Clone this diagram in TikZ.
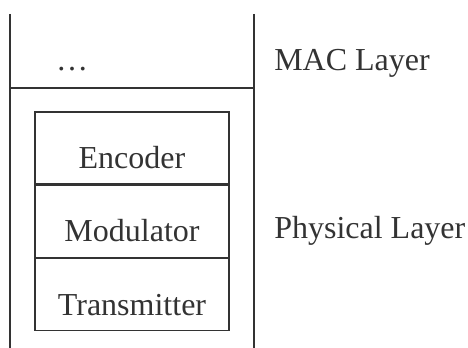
\documentclass[tikz,border=0pt]{standalone}
\usepackage{fontspec}
\setmainfont{Liberation Serif}
\usetikzlibrary{positioning}

\definecolor{ink}{rgb}{0.2,0.2,0.2}
\tikzset{
  layerbox/.style={draw=ink, line width=1pt, minimum width=145.5pt, minimum height=54pt,
    inner sep=0pt, text height=33pt, text depth=2pt, font=\fontsize{24}{28}\selectfont, text=ink},
  layertext/.style={inner sep=0pt, font=\fontsize{24}{28}\selectfont, text=ink}
}

\begin{document}
\begin{tikzpicture}[x=0.75pt,y=0.75pt,yscale=-1,xscale=1]
\useasboundingbox (0,0) rectangle (468,348);
%Straight Lines
\draw [ink, line width=1.5pt]    (10,14) -- (10,348) ;
%Straight Lines
\draw [ink, line width=1.5pt]    (254,14) -- (254,348) ;
%Straight Lines
\draw [ink, line width=1.5pt]    (10,88) -- (254,88) ;
% Text Node
\node (dots) [layertext, anchor=base] at (72,71) {…};
% Blocks
\node (enc) [layerbox] at (132,148) {Encoder};
\node (mod) [layerbox, below=0pt of enc] {Modulator};
\node (tx) [layerbox, below=0pt of mod] {Transmitter};
% Text Node
\node (mac) [layertext, anchor=base west] at (274,71) {MAC Layer};
% Text Node
\node (phy) [layertext, anchor=base west] at (274,239) {Physical Layer};
\end{tikzpicture}
\end{document}
